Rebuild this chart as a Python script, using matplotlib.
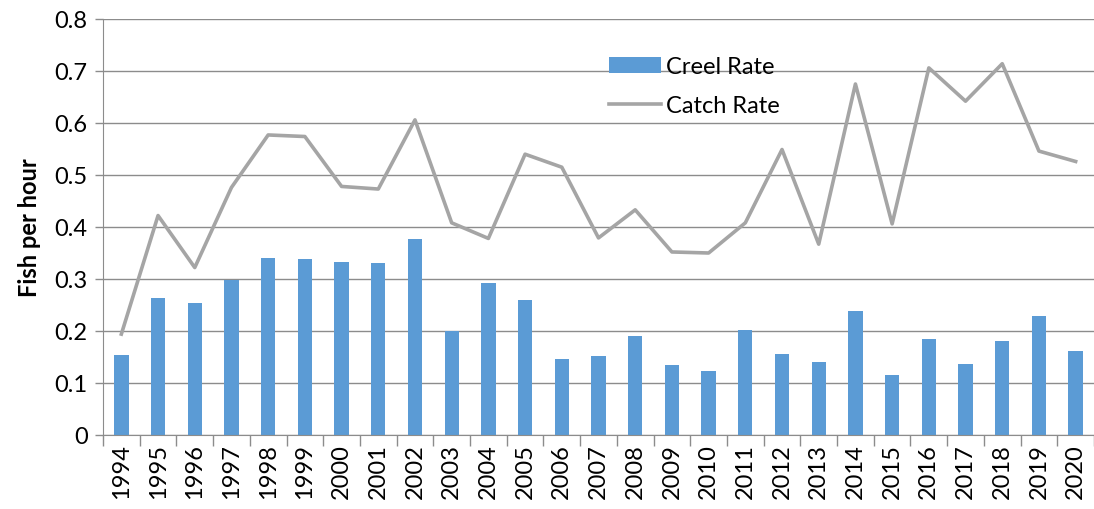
import matplotlib.pyplot as plt
import numpy as np
from matplotlib.patches import Patch
from matplotlib.lines import Line2D

years = [str(y) for y in range(1994, 2021)]
creel_rate = [0.154, 0.263, 0.254, 0.298, 0.341, 0.338, 0.332, 0.331, 0.376,
              0.200, 0.292, 0.259, 0.146, 0.151, 0.190, 0.135, 0.124, 0.201,
              0.155, 0.140, 0.238, 0.115, 0.185, 0.137, 0.181, 0.229, 0.162]
catch_rate = [0.194, 0.422, 0.322, 0.476, 0.577, 0.574, 0.478, 0.473, 0.606,
              0.408, 0.378, 0.540, 0.515, 0.379, 0.433, 0.352, 0.350, 0.408,
              0.549, 0.367, 0.675, 0.406, 0.706, 0.642, 0.714, 0.546, 0.526]

BAR_COLOR = "#5B9BD5"
LINE_COLOR = "#A5A5A5"
GRID_COLOR = "#8C8C8C"

plt.rcParams["font.family"] = ["Lato", "DejaVu Sans"]

fig = plt.figure(figsize=(10.94, 5.10), dpi=100)
ax = fig.add_axes([103 / 1094, 1 - 436 / 510, (1094 - 103) / 1094, (436 - 20) / 510])

x = np.arange(len(years))
ax.bar(x, creel_rate, width=0.39, color=BAR_COLOR, zorder=2)
ax.plot(x, catch_rate, color=LINE_COLOR, linewidth=2.6, zorder=3)

ax.set_ylim(0, 0.8)
ax.set_xlim(-0.5, len(years) - 0.57)
yt = np.arange(0, 0.81, 0.1)
ax.set_yticks(yt)
ax.set_yticklabels(["0" if v == 0 else f"{v:.1f}" for v in yt], fontsize=17)
ax.yaxis.grid(True, color=GRID_COLOR, linewidth=1.0, zorder=0)
ax.set_axisbelow(True)

# category labels at centres, tick marks between categories
ax.set_xticks(x)
ax.set_xticklabels(years, rotation=90, fontsize=17)
ax.tick_params(axis="x", length=0, pad=6)
ax.set_xticks(np.arange(-0.5, len(years), 1.0), minor=True)
ax.tick_params(axis="x", which="minor", length=8, color=GRID_COLOR, width=1)
ax.tick_params(axis="y", length=6, color=GRID_COLOR, width=1, pad=5)

for side in ["top", "right"]:
    ax.spines[side].set_visible(False)
ax.spines["left"].set_color(GRID_COLOR)
ax.spines["bottom"].set_color(GRID_COLOR)

ax.set_ylabel("Fish per hour", fontsize=17, fontweight="bold", labelpad=10)

handles = [Patch(facecolor=BAR_COLOR, edgecolor="none"),
           Line2D([0], [0], color=LINE_COLOR, linewidth=2.6)]
fig.legend(handles, ["Creel Rate", "Catch Rate"], loc="upper left",
           bbox_to_anchor=(588 / 1094, 1 - 36 / 510), frameon=False,
           fontsize=17, handlelength=2.2, handleheight=0.7,
           handletextpad=0.2, labelspacing=0.75)

fig.savefig("out.png", dpi=100)
